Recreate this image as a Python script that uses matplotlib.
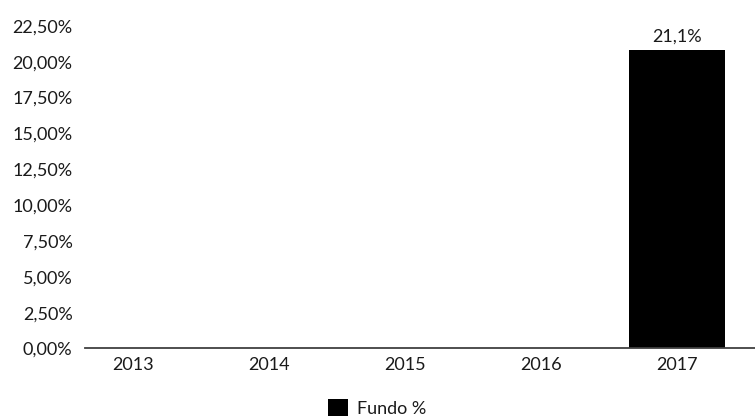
import matplotlib.pyplot as plt
from matplotlib.ticker import FuncFormatter

# Data
years = ['2013', '2014', '2015', '2016', '2017']
fundo_pct = [0.0, 0.0, 0.0, 0.0, 20.8]
bar_labels = ['', '', '', '', '21,1%']
y_ticks = [0, 2.5, 5, 7.5, 10, 12.5, 15, 17.5, 20, 22.5]

plt.rcParams['font.family'] = ['Lato', 'DejaVu Sans']

fig = plt.figure(figsize=(7.55, 4.17), dpi=100)
ax = fig.add_axes([0.1126, 0.1643, 0.8874, 0.7736])

x = list(range(len(years)))
bars = ax.bar(x, fundo_pct, width=0.7, color='black', label='Fundo %')

# Value label above the bar
for rect, lab in zip(bars, bar_labels):
    if lab:
        ax.annotate(lab, (rect.get_x() + rect.get_width() / 2, rect.get_height()),
                    xytext=(0, 4), textcoords='offset points',
                    ha='center', va='bottom', fontsize=13, color='#1a1a1a')

ax.set_xlim(-0.353, 4.574)
ax.set_ylim(0, 22.5)
ax.set_xticks(x)
ax.set_xticklabels(years)
ax.set_yticks(y_ticks)
ax.yaxis.set_major_formatter(FuncFormatter(lambda v, p: f"{v:.2f}%".replace('.', ',')))

for side in ['top', 'right', 'left']:
    ax.spines[side].set_visible(False)
ax.spines['bottom'].set_color('#404040')
ax.spines['bottom'].set_linewidth(1.3)

ax.tick_params(axis='both', length=0, labelsize=13, labelcolor='#1a1a1a')
ax.tick_params(axis='y', pad=9)
ax.tick_params(axis='x', pad=6)

fig.legend(loc='center', bbox_to_anchor=(0.5, 0.022), frameon=False,
           fontsize=13, handlelength=1.1, handleheight=1.1, handletextpad=0.5,
           labelcolor='#1a1a1a')

fig.savefig('out.png', dpi=100)
